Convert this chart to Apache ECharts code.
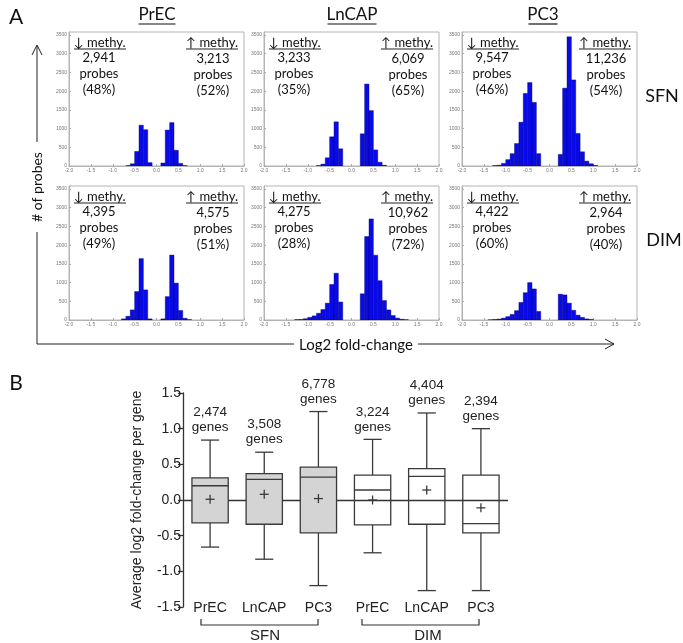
<!DOCTYPE html>
<html><head><meta charset="utf-8">
<script src="https://cdn.jsdelivr.net/npm/echarts@6/dist/echarts.min.js"></script>
<style>html,body{margin:0;padding:0;background:#fff}#c{width:683px;height:643px}</style>
</head><body><div id="c"></div>
<script>
// ---------------- DATA ----------------
const cellLines = ['PrEC', 'LnCAP', 'PC3'];
const treatments = ['SFN', 'DIM'];
// histogram bins: 40 bins of width 0.1 from -2.0 to 2.0
const binStart = -2.0;
const binWidth = 0.1;
const histPrecSfn  = [0,0,0,0,0,0,0,0,0,0, 0,0,0,10,60,390,1090,970,90,0, 0,80,960,1160,420,70,10,0,0,0, 0,0,0,0,0,0,0,0,0,0];
const histLncapSfn = [0,0,0,0,0,0,0,0,0,0, 0,0,10,50,220,780,1180,460,0,0, 0,0,860,2190,1480,430,100,20,0,0, 0,0,0,0,0,0,0,0,0,0];
const histPc3Sfn   = [0,0,0,0,0,0,0,10,20,70, 170,330,600,1170,1940,2230,1700,330,0,0, 0,0,310,2080,3450,2300,870,380,130,60, 15,0,0,0,0,0,0,0,0,0];
const histPrecDim  = [0,0,0,0,0,0,0,0,0,0, 0,0,30,100,270,760,1640,805,30,0, 0,30,625,1735,985,255,45,10,0,0, 0,0,0,0,0,0,0,0,0,0];
const histLncapDim = [0,0,0,0,0,0,0,10,15,35, 70,110,180,280,450,950,1250,480,0,0, 0,0,700,2230,2700,1730,1050,520,270,120, 50,20,8,0,0,0,0,0,0,0];
const histPc3Dim   = [0,0,0,0,0,0,5,15,25,50, 90,150,250,470,730,1000,830,230,0,0, 0,0,690,670,450,260,130,70,30,15, 0,0,0,0,0,0,0,0,0,0];
const downCounts = ['2,941', '3,233', '9,547', '4,395', '4,275', '4,422'];
const downPct    = ['(48%)', '(35%)', '(46%)', '(49%)', '(28%)', '(60%)'];
const upCounts   = ['3,213', '6,069', '11,236', '4,575', '10,962', '2,964'];
const upPct      = ['(52%)', '(65%)', '(54%)', '(51%)', '(72%)', '(40%)'];
const histYMax = 3580;
const histYTicks = 500;
const histXTicks = 0.5;

// box plot (panel B)
const boxCategories = ['PrEC', 'LnCAP', 'PC3', 'PrEC', 'LnCAP', 'PC3'];
const boxTreatment  = ['SFN', 'SFN', 'SFN', 'DIM', 'DIM', 'DIM'];
const boxMin    = [-0.66, -0.83, -1.20, -0.74, -1.27, -1.27];
const boxQ1     = [-0.32, -0.34, -0.46, -0.35, -0.34, -0.46];
const boxMedian = [ 0.20,  0.29,  0.32,  0.14,  0.33, -0.33];
const boxQ3     = [ 0.31,  0.37,  0.46,  0.35,  0.44,  0.35];
const boxMax    = [ 0.84,  0.67,  1.24,  0.85,  1.22,  1.00];
const boxMean   = [ 0.01,  0.08,  0.02,  0.00,  0.14, -0.11];
const geneCounts = ['2,474', '3,508', '6,778', '3,224', '4,404', '2,394'];

// ---------------- LAYOUT ----------------
const histData = [histPrecSfn, histLncapSfn, histPc3Sfn, histPrecDim, histLncapDim, histPc3Dim];
const colLefts = [69, 264, 462];
const rowTops = [32, 186];
const HW = 175, HH = 134;
const annFont = '"Lato", "DejaVu Sans", sans-serif';
const arialFont = '"Liberation Sans", Arial, sans-serif';

const grids = [], xAxes = [], yAxes = [], series = [], graphic = [];

function renderHist(params, api) {
  const p0 = api.coord([api.value(0), api.value(2)]);
  const p1 = api.coord([api.value(1), 0]);
  return {type: 'rect', shape: {x: p0[0], y: p0[1], width: p1[0] - p0[0], height: p1[1] - p0[1]},
    style: {fill: '#0a0ae8', stroke: '#00006e', lineWidth: 0.4}};
}

for (let r = 0; r < 2; r++) {
  for (let c = 0; c < 3; c++) {
    const k = r * 3 + c;
    const L = colLefts[c], T = rowTops[r];
    grids.push({left: L, top: T, width: HW, height: HH, show: true, borderColor: '#b4b4b4', borderWidth: 1, containLabel: false});
    xAxes.push({type: 'value', gridIndex: k, min: -2, max: 2, interval: histXTicks,
      axisLine: {show: true, onZero: false, lineStyle: {color: '#b4b4b4', width: 1}},
      axisTick: {show: true, inside: true, length: 2, lineStyle: {color: '#aaa'}},
      axisLabel: {fontSize: 5, color: '#777', margin: 2, formatter: v => v.toFixed(1)},
      splitLine: {show: false}});
    yAxes.push({type: 'value', gridIndex: k, min: 0, max: histYMax, interval: histYTicks,
      axisLine: {show: true, onZero: false, lineStyle: {color: '#b4b4b4', width: 1}},
      axisTick: {show: true, inside: true, length: 2, lineStyle: {color: '#aaa'}},
      axisLabel: {fontSize: 5, color: '#777', margin: 2, showMaxLabel: false, formatter: v => String(v)},
      splitLine: {show: false}});
    const data = [];
    histData[k].forEach((v, i) => { if (v > 0) data.push([binStart + i * binWidth, binStart + (i + 1) * binWidth, v]); });
    series.push({type: 'custom', xAxisIndex: k, yAxisIndex: k, data: data, encode: {x: [0, 1], y: 2},
      renderItem: renderHist, silent: true, clip: true});

    // annotations
    const txt = (t, x, y, align) => ({type: 'text', x: x, y: y, silent: true,
      style: {text: t, font: '13px ' + annFont, fill: '#111', align: align, verticalAlign: 'middle'}});
    graphic.push(txt('\u2193 methy.', L + 5, T + 11, 'left'));
    graphic.push({type: 'line', silent: true, shape: {x1: L + 5, y1: T + 17, x2: L + 57, y2: T + 17}, style: {stroke: '#222', lineWidth: 1}});
    graphic.push(txt(downCounts[k], L + 30, T + 26, 'center'));
    graphic.push(txt('probes', L + 30, T + 42, 'center'));
    graphic.push(txt(downPct[k], L + 30, T + 58, 'center'));
    graphic.push(txt('\u2191 methy.', L + 169, T + 11, 'right'));
    graphic.push({type: 'line', silent: true, shape: {x1: L + 117, y1: T + 17, x2: L + 169, y2: T + 17}, style: {stroke: '#222', lineWidth: 1}});
    graphic.push(txt(upCounts[k], L + 144, T + 27, 'center'));
    graphic.push(txt('probes', L + 144, T + 43, 'center'));
    graphic.push(txt(upPct[k], L + 144, T + 59, 'center'));
  }
}

// column titles
const titleX = [157, 352, 543];
const titleW = [37, 49, 29];
cellLines.forEach((n, i) => {
  graphic.push({type: 'text', x: titleX[i], y: 15, silent: true,
    style: {text: n, font: '17px ' + annFont, fill: '#111', align: 'center', verticalAlign: 'middle'}});
  graphic.push({type: 'line', silent: true, shape: {x1: titleX[i] - titleW[i] / 2, y1: 24, x2: titleX[i] + titleW[i] / 2, y2: 24},
    style: {stroke: '#111', lineWidth: 1.2}});
});
// row labels
graphic.push({type: 'text', x: 662, y: 96, silent: true, style: {text: treatments[0], font: '18px ' + annFont, fill: '#111', align: 'center', verticalAlign: 'middle'}});
graphic.push({type: 'text', x: 664, y: 240, silent: true, style: {text: treatments[1], font: '18px ' + annFont, fill: '#111', align: 'center', verticalAlign: 'middle'}});
// panel letters
graphic.push({type: 'text', x: 16, y: 17, silent: true, style: {text: 'A', font: '21px ' + annFont, fill: '#111', align: 'center', verticalAlign: 'middle'}});
graphic.push({type: 'text', x: 16, y: 383, silent: true, style: {text: 'B', font: '21px ' + annFont, fill: '#111', align: 'center', verticalAlign: 'middle'}});
// big axis arrows of panel A
const ax = {stroke: '#222', lineWidth: 1};
graphic.push({type: 'polyline', silent: true, shape: {points: [[37, 142], [37, 46]]}, style: ax});
graphic.push({type: 'polyline', silent: true, shape: {points: [[37, 232], [37, 344], [294, 344]]}, style: ax});
graphic.push({type: 'polyline', silent: true, shape: {points: [[32, 55], [37, 45], [42, 55]]}, style: ax});
graphic.push({type: 'polyline', silent: true, shape: {points: [[418, 344], [614, 344]]}, style: ax});
graphic.push({type: 'polyline', silent: true, shape: {points: [[605, 339], [614, 344], [605, 349]]}, style: ax});
graphic.push({type: 'text', x: 37, y: 187, rotation: Math.PI / 2, silent: true,
  style: {text: '# of probes', font: '14px ' + annFont, fill: '#111', align: 'center', verticalAlign: 'middle'}});
graphic.push({type: 'text', x: 356, y: 345, silent: true,
  style: {text: 'Log2 fold-change', font: '15px ' + annFont, fill: '#111', align: 'center', verticalAlign: 'middle'}});

// ---------------- PANEL B ----------------
const bIdx = 6;
grids.push({left: 183, right: 175, top: 393, bottom: 36, show: false});
xAxes.push({type: 'category', gridIndex: bIdx, data: boxCategories,
  axisLine: {show: false, onZero: false}, axisTick: {show: false},
  axisLabel: {margin: -6, fontSize: 14, color: '#222', fontFamily: arialFont, interval: 0},
  splitLine: {show: false}});
yAxes.push({type: 'value', gridIndex: bIdx, min: -1.5, max: 1.5, interval: 0.5,
  name: 'Average log2 fold-change per gene', nameLocation: 'middle', nameGap: 39,
  nameTextStyle: {fontSize: 14, color: '#222', fontFamily: arialFont},
  axisLine: {show: true, onZero: false, lineStyle: {color: '#333', width: 1.3}},
  axisTick: {show: true, length: 5, lineStyle: {color: '#333', width: 1.3}},
  axisLabel: {fontSize: 14, color: '#222', fontFamily: arialFont, margin: 2, formatter: v => v.toFixed(1)},
  splitLine: {show: false}});

const boxRows = boxCategories.map((_, i) => [i, boxMin[i], boxQ1[i], boxMedian[i], boxQ3[i], boxMax[i], boxMean[i]]);
function renderBox(params, api) {
  const i = api.value(0);
  const pMin = api.coord([i, api.value(1)]);
  const pQ1 = api.coord([i, api.value(2)]);
  const pMed = api.coord([i, api.value(3)]);
  const pQ3 = api.coord([i, api.value(4)]);
  const pMax = api.coord([i, api.value(5)]);
  const pMean = api.coord([i, api.value(6)]);
  const bw = api.size([1, 0])[0] * 0.67;
  const cx = pMin[0], h = bw / 2, cap = bw / 4, pl = 4.5;
  const st = {stroke: '#3a3a3a', lineWidth: 1.3, fill: null};
  const line = (x1, y1, x2, y2) => ({type: 'line', shape: {x1, y1, x2, y2}, style: st});
  const fill = boxTreatment[params.dataIndex] === 'SFN' ? '#d4d4d4' : 'none';
  return {type: 'group', children: [
    line(cx, pQ3[1], cx, pMax[1]),
    line(cx, pQ1[1], cx, pMin[1]),
    line(cx - cap, pMax[1], cx + cap, pMax[1]),
    line(cx - cap, pMin[1], cx + cap, pMin[1]),
    {type: 'rect', shape: {x: cx - h, y: pQ3[1], width: bw, height: pQ1[1] - pQ3[1]}, style: {fill: fill, stroke: '#3a3a3a', lineWidth: 1.3}},
    line(cx - h, pMed[1], cx + h, pMed[1]),
    line(cx - pl, pMean[1], cx + pl, pMean[1]),
    line(cx, pMean[1] - pl, cx, pMean[1] + pl),
    {type: 'text', x: cx, y: pMax[1] - 5, style: {text: geneCounts[params.dataIndex] + '\ngenes', align: 'center', verticalAlign: 'bottom',
      font: '13.5px ' + arialFont, fill: '#222', lineHeight: 15}}
  ]};
}
series.push({type: 'custom', xAxisIndex: bIdx, yAxisIndex: bIdx, data: boxRows,
  encode: {x: 0, y: [1, 2, 3, 4, 5, 6]}, renderItem: renderBox, silent: true, z: 3,
  markLine: {silent: true, symbol: 'none', label: {show: false}, lineStyle: {color: '#333', width: 1.3, type: 'solid'},
    data: [{yAxis: 0}], z: 1}});

// brackets for treatment groups
const brk = {stroke: '#333', lineWidth: 1.2, fill: null};
graphic.push({type: 'polyline', silent: true, shape: {points: [[201, 619], [201, 625], [318, 625], [318, 619]]}, style: brk});
graphic.push({type: 'polyline', silent: true, shape: {points: [[362, 619], [362, 625], [479, 625], [479, 619]]}, style: brk});
graphic.push({type: 'text', x: 265, y: 636, silent: true, style: {text: treatments[0], font: '15px ' + arialFont, fill: '#222', align: 'center', verticalAlign: 'middle'}});
graphic.push({type: 'text', x: 428, y: 636, silent: true, style: {text: treatments[1], font: '15px ' + arialFont, fill: '#222', align: 'center', verticalAlign: 'middle'}});

const chart = echarts.init(document.getElementById('c'), null, {renderer: 'canvas'});
chart.setOption({animation: false, backgroundColor: '#fff', grid: grids, xAxis: xAxes, yAxis: yAxes, series: series, graphic: graphic});
</script></body></html>
